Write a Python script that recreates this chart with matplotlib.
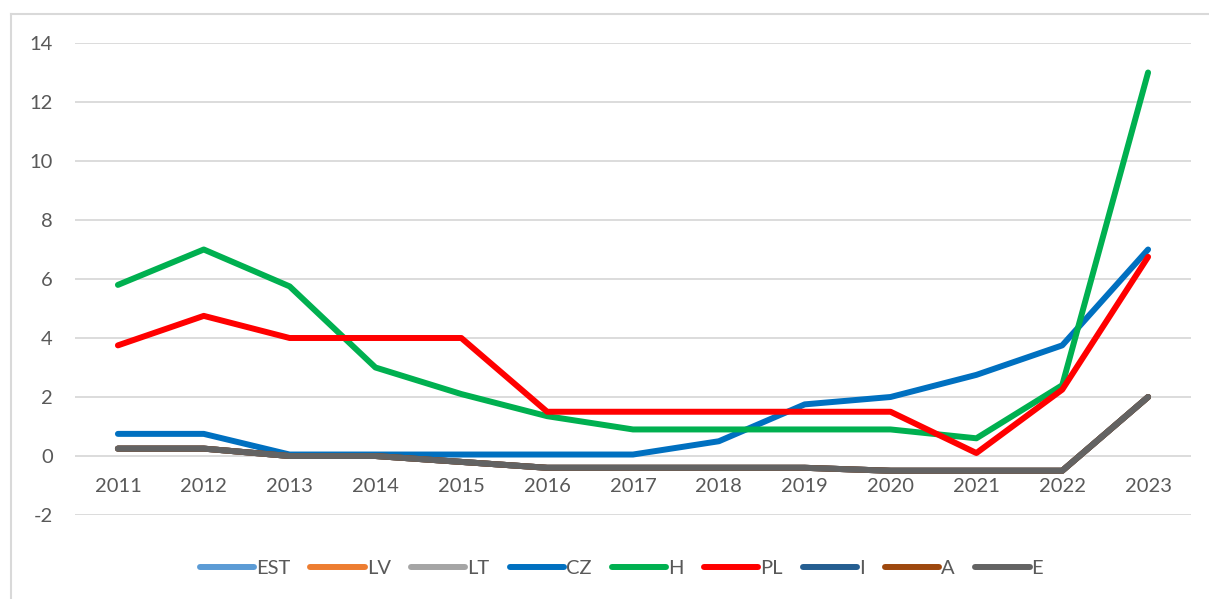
import matplotlib
matplotlib.use("Agg")
import matplotlib.pyplot as plt
from matplotlib.lines import Line2D
import numpy as np

plt.rcParams["font.family"] = ["Lato", "DejaVu Sans"]

YEARS = ["2011", "2012", "2013", "2014", "2015", "2016", "2017",
         "2018", "2019", "2020", "2021", "2022", "2023"]

E_RATE = [0.25, 0.25, 0.0, 0.0, -0.2, -0.4, -0.4, -0.4, -0.4, -0.5, -0.5, -0.5, 2.0]
EST = list(E_RATE)
LV = list(E_RATE)
LT = list(E_RATE)
CZ = [0.75, 0.75, 0.05, 0.05, 0.05, 0.05, 0.05, 0.5, 1.75, 2.0, 2.75, 3.75, 7.0]
H = [5.8, 7.0, 5.75, 3.0, 2.1, 1.35, 0.9, 0.9, 0.9, 0.9, 0.6, 2.4, 13.0]
PL = [3.75, 4.75, 4.0, 4.0, 4.0, 1.5, 1.5, 1.5, 1.5, 1.5, 0.1, 2.25, 6.75]
I = list(E_RATE)
A = list(E_RATE)
E = list(E_RATE)

SERIES = [("EST", EST, "#5B9BD5"), ("LV", LV, "#ED7D31"), ("LT", LT, "#A5A5A5"),
          ("CZ", CZ, "#0070C0"), ("H", H, "#00B050"), ("PL", PL, "#FF0000"),
          ("I", I, "#255E91"), ("A", A, "#9E480E"), ("E", E, "#636363")]

TEXT = "#595959"
GRID = "#D9D9D9"
FS = 14.5

fig = plt.figure(figsize=(12.09, 5.99), dpi=100)
ax = fig.add_axes([75 / 1209, 1 - 515 / 599, 1116 / 1209, 472 / 599])

x = np.arange(len(YEARS))
handles = []
for name, vals, col in SERIES:
    ln, = ax.plot(x, vals, color=col, lw=4.3, solid_capstyle="round",
                  solid_joinstyle="round", label=name, clip_on=False)
    handles.append(ln)

ax.set_xlim(-0.5, len(YEARS) - 0.5)
ax.set_ylim(-2, 14)
ax.set_yticks(np.arange(-2, 15, 2))
ax.set_yticklabels([str(v) for v in range(-2, 15, 2)])
ax.set_xticks([])
ax.tick_params(axis="y", length=0, pad=16, labelsize=FS, labelcolor=TEXT)
ax.grid(axis="y", color=GRID, lw=1.3)
ax.set_axisbelow(True)
for s in ax.spines.values():
    s.set_visible(False)

# category labels sit just under the zero line, Excel style
for xi, yr in zip(x, YEARS):
    ax.text(xi, -1.05, yr, ha="center", va="center", fontsize=FS, color=TEXT)

leg = fig.legend(handles=handles, loc="center", bbox_to_anchor=(0.514, 1 - 568 / 599),
                 ncol=9, frameon=False, fontsize=FS, handlelength=2.7,
                 columnspacing=1.0, handletextpad=0.1, labelcolor=TEXT)
for lh in leg.get_lines():
    lh.set_linewidth(4.3)
    lh.set_solid_capstyle("round")

# chart border (left and top visible)
fig.add_artist(Line2D([11 / 1209, 11 / 1209], [0, 1 - 14 / 599], color=GRID, lw=1.5))
fig.add_artist(Line2D([11 / 1209, 1], [1 - 14 / 599, 1 - 14 / 599], color=GRID, lw=1.5))

fig.savefig("out.png", dpi=100)
